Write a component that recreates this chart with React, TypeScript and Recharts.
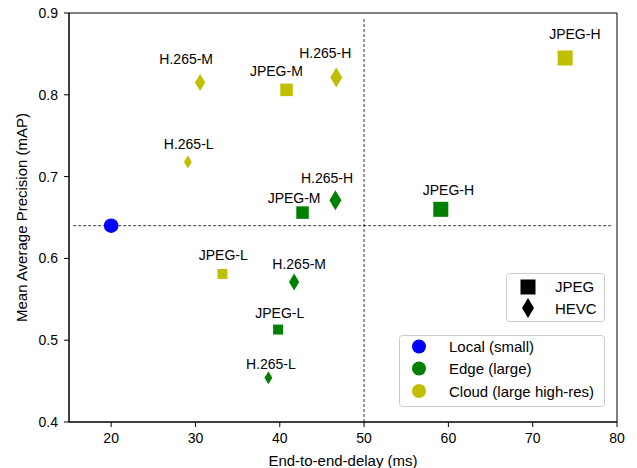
import React from 'react';
import { ScatterChart, Scatter, XAxis, YAxis, ReferenceLine, ReferenceArea } from 'recharts';

// names are shared by the edge and cloud series (same order)
const configNames = ['JPEG-L', 'JPEG-M', 'JPEG-H', 'H.265-L', 'H.265-M', 'H.265-H'];

const localDelay = [20];
const localMap = [0.64];

const edgeDelay = [39.8, 42.7, 59.1, 38.65, 41.7, 46.6];
const edgeMap = [0.513, 0.656, 0.66, 0.454, 0.571, 0.671];
const edgeLabelX = [40.0, 41.7, 60.0, 38.95, 42.3, 45.6];
const edgeLabelY = [0.5275, 0.668, 0.677, 0.465, 0.5875, 0.692];

const cloudDelay = [33.2, 40.8, 73.85, 29.1, 30.55, 46.7];
const cloudMap = [0.581, 0.806, 0.845, 0.718, 0.815, 0.821];
const cloudLabelX = [33.3, 39.6, 75.0, 29.2, 28.9, 45.4];
const cloudLabelY = [0.598, 0.8235, 0.868, 0.7335, 0.838, 0.845];

const xTicks = [20, 30, 40, 50, 60, 70, 80];
const yTicks = [0.4, 0.5, 0.6, 0.7, 0.8, 0.9];

const delayThreshold = 50;
const mapThreshold = 0.64;

const BLUE = '#0000ff';
const GREEN = '#008000';
const YELLOW = '#bfbf00';
const FONT = '"Liberation Sans", Arial, sans-serif';

const SQUARE: Record<string, number> = { L: 10, M: 12.5, H: 15 };
const DIAMOND: Record<string, number> = { L: 13, M: 17, H: 20 };

const pts = (xs: number[], ys: number[], names: string[]) =>
  xs.map((x, i) => ({ x, y: ys[i], name: names[i] ?? '' }));

const localData = pts(localDelay, localMap, ['Local']);
const edgeData = pts(edgeDelay, edgeMap, configNames);
const cloudData = pts(cloudDelay, cloudMap, configNames);
const labelData = [...pts(edgeLabelX, edgeLabelY, configNames), ...pts(cloudLabelX, cloudLabelY, configNames)];

function Marker(props: any) {
  const { cx, cy, fill, payload } = props;
  if (cx == null || cy == null) return null;
  const name: string = payload?.name ?? '';
  const q = name.slice(-1);
  if (name.startsWith('JPEG')) {
    const s = SQUARE[q];
    return <rect x={cx - s / 2} y={cy - s / 2} width={s} height={s} fill={fill} />;
  }
  if (name.startsWith('H.265')) {
    const h = DIAMOND[q] / 2;
    const w = h * 0.6;
    return <polygon points={`${cx},${cy - h} ${cx + w},${cy} ${cx},${cy + h} ${cx - w},${cy}`} fill={fill} />;
  }
  return <circle cx={cx} cy={cy} r={7.3} fill={fill} />;
}

function LabelText(props: any) {
  const { cx, cy, payload } = props;
  if (cx == null || cy == null) return null;
  return (
    <text x={cx} y={cy} textAnchor="middle" fontSize={14} fontFamily={FONT} fill="#000">
      {payload.name}
    </text>
  );
}

function Legends() {
  const t = { fontSize: 15, fontFamily: FONT, fill: '#000' } as const;
  return (
    <svg width={637} height={468} style={{ position: 'absolute', left: 0, top: 0, pointerEvents: 'none' }}>
      <rect x={506.5} y={273.5} width={98} height={48} rx={3} fill="rgba(255,255,255,0.8)" stroke="#cccccc" />
      <rect x={520.5} y={279.5} width={15} height={15} fill="#000" />
      <polygon points="528,298 534,308 528,318 522,308" fill="#000" />
      <text x={555} y={292} {...t}>JPEG</text>
      <text x={555} y={313.5} {...t}>HEVC</text>

      <rect x={399.5} y={335.5} width={205} height={71} rx={3} fill="rgba(255,255,255,0.8)" stroke="#cccccc" />
      <circle cx={419} cy={346.5} r={7} fill={BLUE} />
      <circle cx={419} cy={368.5} r={7} fill={GREEN} />
      <circle cx={419} cy={391} r={7} fill={YELLOW} />
      <text x={449} y={352} {...t}>Local (small)</text>
      <text x={449} y={374} {...t}>Edge (large)</text>
      <text x={449} y={396.5} {...t}>Cloud (large high-res)</text>
    </svg>
  );
}

export default function App() {
  const tick = { fontSize: 14, fontFamily: FONT, fill: '#000' };
  return (
    <div style={{ position: 'absolute', left: 0, top: 0, width: 637, height: 468, background: '#fff' }}>
      <ScatterChart width={637} height={468} margin={{ top: 13, right: 20, bottom: 0, left: 0 }}>
        <XAxis
          type="number"
          dataKey="x"
          domain={[15, 80]}
          ticks={xTicks}
          allowDataOverflow
          height={46}
          tickSize={5}
          tickMargin={6}
          tick={tick}
          stroke="#000"
          tickLine={{ stroke: '#000' }}
          label={{ value: 'End-to-end-delay (ms)', position: 'insideBottom', offset: 2, fontSize: 15, fontFamily: FONT, fill: '#000' }}
        />
        <YAxis
          type="number"
          dataKey="y"
          domain={[0.4, 0.9]}
          ticks={yTicks}
          allowDataOverflow
          width={69}
          tickSize={5}
          tickMargin={6}
          tick={tick}
          tickFormatter={(v: number) => v.toFixed(1)}
          stroke="#000"
          tickLine={{ stroke: '#000' }}
          label={{ value: 'Mean Average Precision (mAP)', angle: -90, position: 'insideLeft', offset: 22, style: { textAnchor: 'middle' }, fontSize: 15, fontFamily: FONT, fill: '#000' }}
        />
        <ReferenceArea x1={15} x2={80} y1={0.4} y2={0.9} fill="none" stroke="#000" strokeWidth={1} ifOverflow="visible" />
        <ReferenceLine
          segment={[{ x: 15.5, y: mapThreshold }, { x: 79.4, y: mapThreshold }]}
          stroke="#000"
          strokeWidth={0.8}
          strokeDasharray="3 2"
        />
        <ReferenceLine
          segment={[{ x: delayThreshold, y: 0.4 }, { x: delayThreshold, y: 0.8935 }]}
          stroke="#000"
          strokeWidth={0.8}
          strokeDasharray="3 2"
        />
        <Scatter data={localData} fill={BLUE} shape={Marker} isAnimationActive={false} />
        <Scatter data={edgeData} fill={GREEN} shape={Marker} isAnimationActive={false} />
        <Scatter data={cloudData} fill={YELLOW} shape={Marker} isAnimationActive={false} />
        <Scatter data={labelData} fill="#000" shape={LabelText} isAnimationActive={false} />
      </ScatterChart>
      <Legends />
    </div>
  );
}
